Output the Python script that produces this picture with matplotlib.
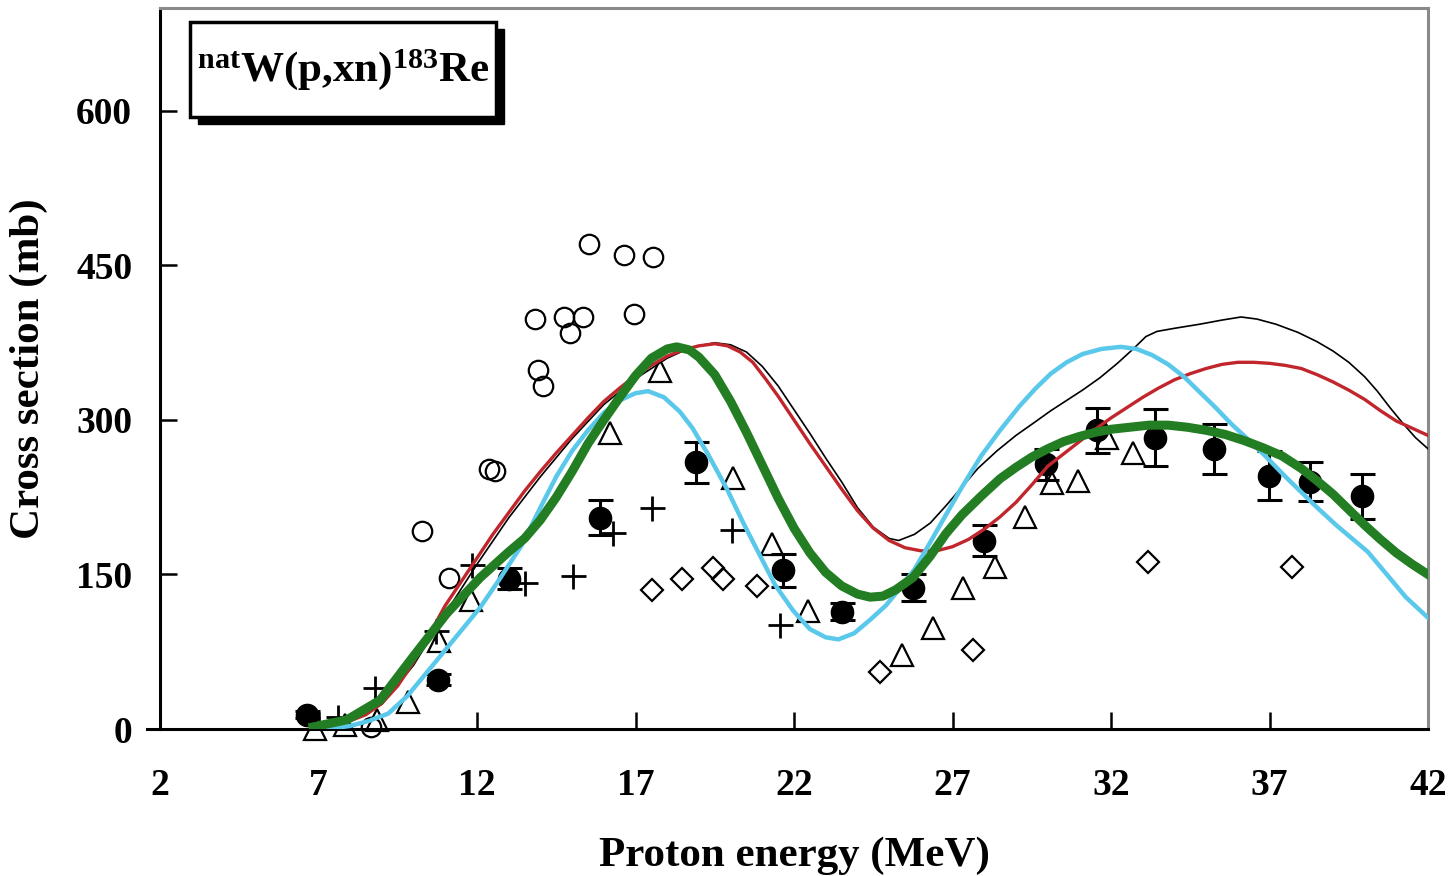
import matplotlib
matplotlib.use("Agg")
from matplotlib import pyplot as plt
from matplotlib.patches import Rectangle
import numpy as np

plt.rcParams["font.family"] = ["Liberation Serif", "DejaVu Serif"]
plt.rcParams["font.weight"] = "bold"
plt.rcParams["mathtext.fontset"] = "custom"
plt.rcParams["mathtext.rm"] = "Liberation Serif:bold"
plt.rcParams["mathtext.it"] = "Liberation Serif:bold"
plt.rcParams["mathtext.bf"] = "Liberation Serif:bold"

################################################################################
# Data
################################################################################

# this work (filled circles with error bars)
exp_E = [6.64, 10.77, 13.01, 15.88, 18.91, 21.65, 23.51, 25.75, 27.99, 29.95,
         31.56, 33.39, 35.25, 36.98, 38.28, 39.92]
exp_sig = [14, 48, 146, 205, 259, 154, 114, 137, 183, 257,
           290, 283, 272, 246, 240, 226]
exp_err = [3, 5, 10, 17, 20, 16, 8, 13, 15, 15,
           22, 28, 24, 24, 19, 22]

# other experiments
circ_E = [8.66, 10.27, 11.12, 12.38, 12.57, 13.83, 13.92, 14.08, 14.75, 14.93,
          15.34, 15.53, 16.64, 16.95, 17.55]
circ_sig = [2, 192, 147, 252, 250, 398, 349, 333, 400, 384,
            400, 471, 460, 403, 458]

tri_E = [6.9, 7.84, 8.85, 9.82, 10.8, 11.8, 16.2, 17.77, 20.08, 21.3,
         22.44, 25.41, 26.39, 27.33, 28.34, 29.29, 30.13, 30.96, 31.87, 32.7]
tri_sig = [0, 4, 9, 26, 85, 125, 287, 348, 244, 180,
           115, 72, 98, 137, 157, 206, 239, 241, 283, 268]

dia_E = [17.52, 18.47, 19.45, 19.76, 20.83, 24.71, 27.65, 33.17, 37.71]
dia_sig = [135, 146, 156, 146, 139, 55, 77, 162, 157]

plus_E = [7.6, 8.78, 10.7, 11.85, 13.5, 15.03, 16.29, 17.52, 20.04, 21.56]
plus_sig = [12, 40, 95, 159, 142, 149, 190, 215, 193, 101]

# model calculations
blk_E = [7.3, 8, 9, 10, 11, 12, 13, 14, 15, 16, 17, 17.5, 18, 18.5, 19, 19.5,
         20, 20.5, 21, 21.5, 22, 22.5, 23, 23.5, 24, 24.5, 25, 25.3, 25.8, 26.3,
         26.8, 27.3, 27.8, 28.4, 29, 29.6, 30.1, 30.6, 31.1, 31.65, 32.2, 32.7,
         33.1, 33.45, 34, 34.8, 35.5, 36.1, 36.6, 37.2, 37.9, 38.5, 39, 39.5,
         40, 40.4, 40.8, 41.2, 41.6, 42]
blk_sig = [2, 8, 24, 62, 112, 160, 205, 245, 282, 315, 340, 350, 360, 367, 372,
           375, 373, 366, 352, 333, 310, 287, 263, 240, 215, 196, 185, 183, 189,
           200, 217, 235, 253, 270, 285, 298, 309, 319, 329, 341, 355, 369, 381,
           386, 389, 393, 397, 400, 398, 393, 385, 376, 367, 356, 342, 328, 312,
           297, 283, 272]

red_E = [7.3, 8, 8.5, 9, 9.5, 10, 10.5, 11, 11.5, 12, 12.5, 13, 13.5, 14, 14.5,
         15, 15.5, 16, 16.5, 17, 17.5, 18, 18.5, 19, 19.5, 19.9, 20.3, 20.7,
         21.1, 21.5, 22, 22.5, 23, 23.5, 24, 24.5, 25, 25.5, 26, 26.5, 27, 27.5,
         28, 28.5, 29, 29.5, 30, 30.5, 31, 31.5, 32, 32.5, 33, 33.5, 34, 34.5,
         35, 35.5, 36, 36.5, 37, 37.5, 38, 38.5, 39, 39.5, 40, 40.5, 41, 41.5, 42]
red_sig = [2, 8, 14, 25, 42, 65, 92, 120, 143, 166, 189, 210, 231, 250, 268,
           285, 302, 318, 331, 343, 353, 362, 368, 372, 374, 372, 366, 356, 340,
           323, 300, 277, 255, 233, 212, 195, 183, 176, 173, 173, 177, 184, 194,
           206, 220, 237, 255, 267, 279, 291, 302, 312, 322, 331, 339, 345, 350,
           354, 356, 356, 355, 353, 350, 344, 337, 329, 320, 309, 299, 292, 285]

cyan_E = [7.3, 8, 8.6, 9.2, 9.8, 10.5, 11.3, 12.1, 12.7, 13.4, 14, 14.5, 15,
          15.5, 16, 16.5, 17, 17.4, 17.9, 18.4, 18.8, 19.3, 19.9, 20.4, 20.9,
          21.4, 21.97, 22.5, 23, 23.4, 23.9, 24.4, 24.9, 25.3, 25.8, 26.2, 26.7,
          27.3, 27.9, 28.5, 29.1, 29.6, 30.1, 30.6, 31.1, 31.7, 32.3, 32.8, 33.3,
          33.8, 34.3, 34.8, 35.3, 35.8, 36.4, 36.9, 37.5, 38, 38.5, 39.1, 39.6,
          40.1, 40.7, 41.3, 42]
cyan_sig = [0, 3, 8, 15, 32, 58, 88, 118, 145, 178, 215, 245, 270, 290, 307,
            319, 326, 328, 322, 308, 292, 266, 232, 200, 170, 140, 115, 97, 89,
            87, 93, 106, 120, 135, 155, 176, 203, 235, 265, 290, 313, 330, 345,
            356, 364, 369, 371, 369, 363, 354, 342, 327, 312, 296, 279, 264, 245,
            230, 215, 198, 185, 172, 150, 128, 108]

grn_E = [6.83, 7.9, 8.94, 9.98, 11.04, 12.1, 13, 13.5, 14, 14.5, 15, 15.5, 16,
         16.5, 17, 17.5, 18, 18.3, 18.7, 19, 19.5, 20, 20.5, 21, 21.5, 22, 22.5,
         23, 23.5, 24, 24.4, 24.8, 25.2, 25.75, 26.3, 26.8, 27.3, 27.9, 28.5, 29,
         29.5, 30, 30.5, 31, 31.5, 32, 32.6, 33.2, 33.8, 34.4, 35, 35.6, 36.2,
         36.8, 37.4, 38, 38.5, 39, 39.5, 40, 40.5, 41, 41.5, 42]
grn_sig = [2, 9, 28, 70, 112, 147, 172, 185, 203, 225, 250, 277, 300, 322, 343,
           360, 369, 371, 368, 361, 344, 318, 288, 256, 224, 195, 171, 152, 139,
           131, 128, 129, 135, 147, 168, 190, 208, 226, 243, 254, 264, 272, 279,
           284, 288, 291, 293, 295, 295, 293, 290, 286, 280, 273, 265, 253, 241,
           228, 213, 198, 184, 171, 160, 150]

################################################################################
# Plot
################################################################################

fig = plt.figure(figsize=(14.52, 8.76), dpi=100)
ax = fig.add_axes([0.1102, 0.1678, 0.8733, 0.8231])

mk = dict(linestyle="none", clip_on=False)
ax.errorbar(exp_E, exp_sig, yerr=exp_err, fmt="o", color="black", markersize=16,
            elinewidth=2.2, capsize=9, capthick=2.2, zorder=3, clip_on=False)
ax.plot(circ_E, circ_sig, marker="o", markersize=14, markerfacecolor="none",
        markeredgecolor="black", markeredgewidth=1.6, zorder=3, **mk)
ax.plot(tri_E, tri_sig, marker="^", markersize=16, markerfacecolor="none",
        markeredgecolor="black", markeredgewidth=1.6, zorder=3, **mk)
ax.plot(dia_E, dia_sig, marker="D", markersize=11, markerfacecolor="none",
        markeredgecolor="black", markeredgewidth=1.6, zorder=3, **mk)
ax.plot(plus_E, plus_sig, marker="+", markersize=18, color="black",
        markeredgewidth=2, zorder=3, **mk)

ax.plot(blk_E, blk_sig, color="black", linewidth=1.2, zorder=4)
ax.plot(red_E, red_sig, color="#c0262b", linewidth=2.4, zorder=5)
ax.plot(cyan_E, cyan_sig, color="#5ac8ea", linewidth=3.2, zorder=6)
ax.plot(grn_E, grn_sig, color="#237d23", linewidth=6.5, zorder=7,
        solid_joinstyle="round")

ax.set_xlim(2, 42)
ax.set_ylim(0, 700)
ax.set_xticks(np.arange(2, 43, 5))
ax.set_yticks(np.arange(0, 601, 150))

for side in ["left", "bottom"]:
    ax.spines[side].set_linewidth(2.2)
    ax.spines[side].set_color("black")
for side in ["top", "right"]:
    ax.spines[side].set_linewidth(2.2)
    ax.spines[side].set_color("#8a8a8a")

# little stub of the x axis sticking out to the left of the y axis
ax.plot([1.6, 2], [0, 0], color="black", linewidth=2.2, clip_on=False)

ax.tick_params(axis="both", direction="in", length=12, width=1.8, labelsize=27)
ax.tick_params(axis="x", pad=28)
ax.tick_params(axis="y", pad=20)
for lbl in ax.get_xticklabels() + ax.get_yticklabels():
    lbl.set_fontweight("bold")

ax.set_xlabel("Proton energy (MeV)", fontsize=31, fontweight="bold", labelpad=24)
ax.set_ylabel("Cross section (mb)", fontsize=31, fontweight="bold", labelpad=20)

# title box with drop shadow
bx, by, bw, bh = 0.0237, 0.8485, 0.2413, 0.1317
ax.add_patch(Rectangle((bx + 0.006, by - 0.010), bw, bh, transform=ax.transAxes,
                       facecolor="black", edgecolor="black", zorder=8, clip_on=False))
ax.add_patch(Rectangle((bx, by), bw, bh, transform=ax.transAxes,
                       facecolor="white", edgecolor="black", linewidth=2.5,
                       zorder=9, clip_on=False))
ax.text(bx + bw / 2, by + bh / 2, r"$^{\rm nat}$W(p,xn)$^{\rm 183}$Re",
        transform=ax.transAxes, ha="center", va="center", fontsize=31,
        fontweight="bold", zorder=10)

fig.savefig("out.png", dpi=100)
